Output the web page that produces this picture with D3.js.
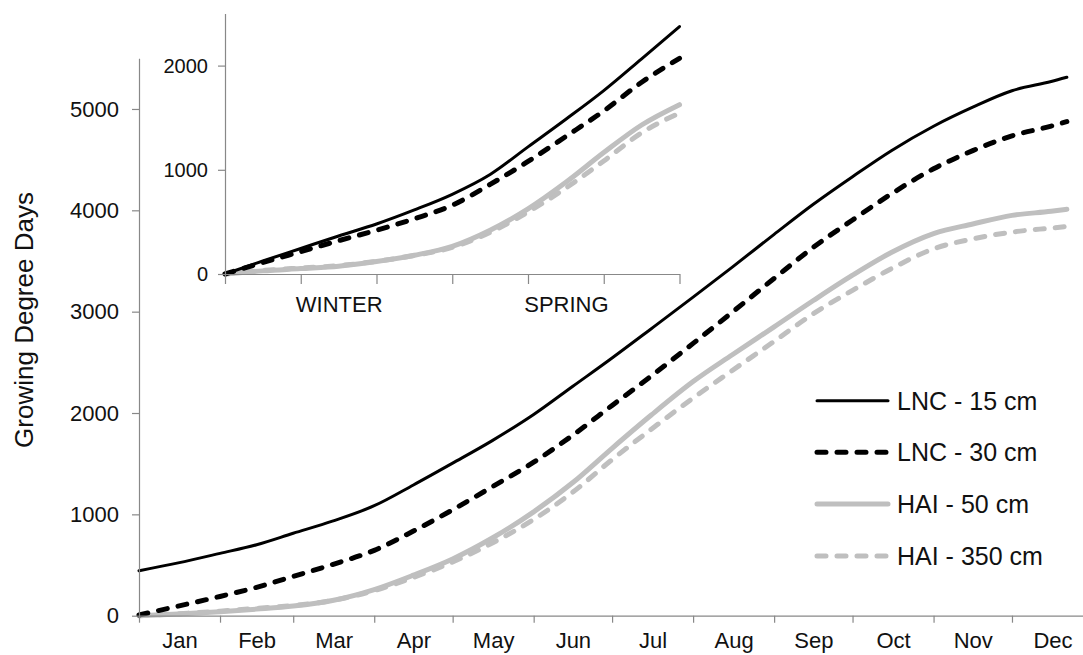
<!DOCTYPE html>
<html><head><meta charset="utf-8">
<script src="https://cdn.jsdelivr.net/npm/d3@7/dist/d3.min.js"></script>
<style>
body{margin:0;background:#fff}
svg{display:block}
text{font-family:"Liberation Sans",Arial,sans-serif;fill:#111}
</style>
</head><body>
<svg id="chart" width="1083" height="655"></svg>
<script>
// ---------- data ----------
const months = ["Jan","Feb","Mar","Apr","May","Jun","Jul","Aug","Sep","Oct","Nov","Dec"];
const monthStarts = [0,31,59,90,120,151,181,212,243,273,304,334,365];
const yTicks = [0,1000,2000,3000,4000,5000];
const seriesNames = ["LNC - 15 cm","LNC - 30 cm","HAI - 50 cm","HAI - 350 cm"];

const days   = [0,15,31,45,59,74,90,105,120,135,151,166,181,196,212,227,243,258,273,288,304,319,334,349,355];
const lnc15  = [444,521,615,700,813,933,1085,1290,1505,1725,1985,2264,2543,2832,3143,3440,3763,4060,4332,4591,4830,5018,5180,5271,5313];
const lnc30  = [7,95,190,280,388,505,645,835,1045,1270,1515,1782,2075,2365,2687,2995,3328,3635,3905,4165,4410,4589,4735,4831,4875];
const hai50  = [0,17,40,65,95,150,258,400,560,764,1025,1314,1652,1980,2310,2575,2850,3110,3360,3586,3770,3865,3950,3990,4010];
const hai350 = [0,20,45,72,100,150,248,378,530,715,950,1220,1540,1840,2148,2420,2707,2980,3210,3426,3620,3718,3785,3825,3840];

// inset (months since start of winter)
const seasons = ["WINTER","SPRING"];
const insetYTicks = [0,1000,2000];
const insetMonths = [0,0.5,1,1.5,2,2.5,3,3.5,4,4.5,5,5.5,6];
const inLnc15  = [0,125,245,365,480,615,765,955,1220,1485,1760,2065,2375];
const inLnc30  = [0,110,215,320,420,530,660,860,1080,1320,1565,1840,2070];
const inHai50  = [0,30,52,75,120,180,265,420,625,880,1165,1430,1625];
const inHai350 = [0,34,58,80,122,178,255,400,595,825,1085,1355,1545];

// ---------- styles ----------
const styles = [
  {color:"#000000", width:3, dash:null},
  {color:"#000000", width:5, dash:"9,11"},
  {color:"#bfbfbf", width:5, dash:null},
  {color:"#bfbfbf", width:5, dash:"9,11"}
];
const axisColor = "#888888";

const svg = d3.select("#chart");

function styleAxis(g){
  g.select(".domain").attr("stroke", axisColor).attr("stroke-width",1.2);
  g.selectAll(".tick line").attr("stroke", axisColor).attr("stroke-width",1.2);
}
function drawSeries(g, xs, ys, xScale, yScale, i){
  const st = styles[i];
  const pts = xs.map((d,k)=>[d, ys[k]]);
  const line = d3.line().x(d=>xScale(d[0])).y(d=>yScale(d[1])).curve(d3.curveMonotoneX);
  g.append("path").datum(pts)
    .attr("d", line)
    .attr("fill","none")
    .attr("stroke", st.color)
    .attr("stroke-width", st.width)
    .attr("stroke-linecap","round")
    .attr("stroke-linejoin","round")
    .attr("stroke-dasharray", st.dash);
}

// ---------- main chart ----------
const x = d3.scaleLinear().domain([0,365]).range([139,1093]);
const y = d3.scaleLinear().domain([0,5500]).range([615.7,58.3]);

const main = svg.append("g");
const allSeries = [lnc15, lnc30, hai50, hai350];
[3,2,1,0].forEach(i=> drawSeries(main, days, allSeries[i], x, y, i));

const xAxisG = main.append("g").attr("transform",`translate(0,${y(0)})`)
  .call(d3.axisBottom(x).tickValues(monthStarts).tickSize(7).tickSizeOuter(0).tickFormat(""));
styleAxis(xAxisG);

const mids = months.map((m,i)=>(monthStarts[i]+monthStarts[i+1])/2);
const xLab = main.append("g").attr("transform",`translate(0,${y(0)})`)
  .call(d3.axisBottom(x).tickValues(mids).tickSize(0).tickFormat((d,i)=>months[i]));
xLab.select(".domain").remove();
xLab.selectAll("text").attr("y",32.5).attr("dy",0).attr("font-size",22).attr("fill","#111")
  .style("font-family",'"Liberation Sans",Arial,sans-serif');

const yAxisG = main.append("g").attr("transform",`translate(${x(0)},0)`)
  .call(d3.axisLeft(y).tickValues(yTicks).tickSize(7).tickSizeOuter(0).tickPadding(13).tickFormat(d3.format("d")));
styleAxis(yAxisG);
yAxisG.selectAll("text").attr("font-size",22).attr("fill","#111")
  .style("font-family",'"Liberation Sans",Arial,sans-serif');

svg.append("text")
  .attr("transform","translate(33,320) rotate(-90)")
  .attr("text-anchor","middle")
  .attr("font-size",26)
  .text("Growing Degree Days");

// ---------- legend ----------
const legend = svg.append("g");
const legY = [400.7, 452.3, 504, 556];
seriesNames.forEach((name,i)=>{
  const st = styles[i];
  legend.append("line")
    .attr("x1",817).attr("x2",888).attr("y1",legY[i]).attr("y2",legY[i])
    .attr("stroke",st.color).attr("stroke-width",st.width)
    .attr("stroke-linecap","round")
    .attr("stroke-dasharray",st.dash);
  legend.append("text").attr("x",897).attr("y",legY[i]).attr("dy","0.36em")
    .attr("font-size",25).text(name);
});

// ---------- inset ----------
const ix = d3.scaleLinear().domain([0,6]).range([225,679.5]);
const iy = d3.scaleLinear().domain([0,2500]).range([274,13.5]);
const inset = svg.append("g");
const inSeries = [inLnc15, inLnc30, inHai50, inHai350];
[3,2,1,0].forEach(i=> drawSeries(inset, insetMonths, inSeries[i], ix, iy, i));

const ixAxis = inset.append("g").attr("transform",`translate(0,${iy(0)})`)
  .call(d3.axisBottom(ix).tickValues([0,1,2,3,4,5,6]).tickSize(10).tickSizeOuter(0).tickFormat(""));
styleAxis(ixAxis);
const ixLab = inset.append("g").attr("transform",`translate(0,${iy(0)})`)
  .call(d3.axisBottom(ix).tickValues([1.5,4.5]).tickSize(0).tickFormat((d,i)=>seasons[i]));
ixLab.select(".domain").remove();
ixLab.selectAll("text").attr("y",37.5).attr("dy",0).attr("font-size",22).attr("fill","#111")
  .style("font-family",'"Liberation Sans",Arial,sans-serif');

const iyAxis = inset.append("g").attr("transform",`translate(${ix(0)},0)`)
  .call(d3.axisLeft(iy).tickValues(insetYTicks).tickSize(7).tickSizeOuter(0).tickPadding(10).tickFormat(d3.format("d")));
styleAxis(iyAxis);
iyAxis.selectAll("text").attr("font-size",20).attr("fill","#111")
  .style("font-family",'"Liberation Sans",Arial,sans-serif');
</script>
</body></html>
